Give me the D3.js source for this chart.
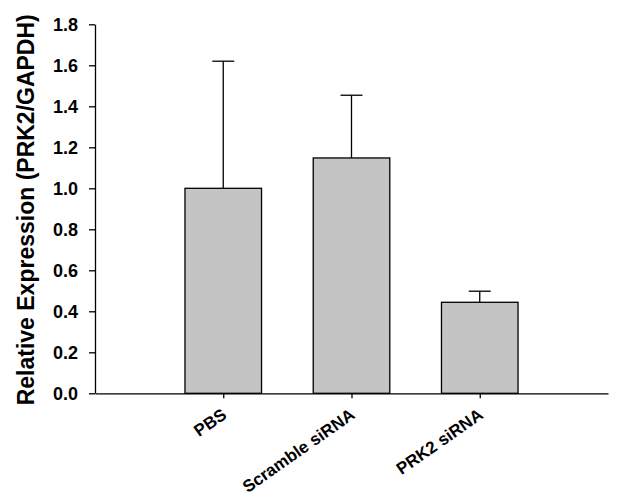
<!DOCTYPE html>
<html><head><meta charset="utf-8">
<script src="https://cdn.jsdelivr.net/npm/d3@7"></script>
<style>body{margin:0;background:#fff}svg{display:block}</style>
</head><body>
<script>
const categories = ["PBS", "Scramble siRNA", "PRK2 siRNA"];
const values = [1.0, 1.148, 0.444];
const errors = [0.62, 0.306, 0.054];
const yTicks = [0, 0.2, 0.4, 0.6, 0.8, 1.0, 1.2, 1.4, 1.6, 1.8];

const W = 626, H = 503;
const m = {left: 95, right: 18, top: 24.3, bottom: 109.7};
const svg = d3.select("body").append("svg").attr("width", W).attr("height", H);
const font = "'Liberation Sans', Arial, sans-serif";

const x = d3.scalePoint().domain(categories).range([m.left, W - m.right]).padding(1);
const y = d3.scaleLinear().domain([0, 1.8]).range([H - m.bottom, m.top]);
const bw = x.step() * 0.597;

const g = svg.append("g");
g.selectAll("rect.bar").data(categories).join("rect")
  .attr("x", d => x(d) - bw / 2)
  .attr("y", (d, i) => y(values[i]))
  .attr("width", bw)
  .attr("height", (d, i) => y(0) - y(values[i]))
  .attr("fill", "#c4c4c4").attr("stroke", "#000").attr("stroke-width", 1.3);
const capW = 11;
g.selectAll("line.err").data(categories).join("line")
  .attr("x1", d => x(d)).attr("x2", d => x(d))
  .attr("y1", (d, i) => y(values[i])).attr("y2", (d, i) => y(values[i] + errors[i]))
  .attr("stroke", "#000").attr("stroke-width", 1.3);
g.selectAll("line.cap").data(categories).join("line")
  .attr("x1", d => x(d) - capW).attr("x2", d => x(d) + capW)
  .attr("y1", (d, i) => y(values[i] + errors[i])).attr("y2", (d, i) => y(values[i] + errors[i]))
  .attr("stroke", "#000").attr("stroke-width", 1.3);

const ya = svg.append("g").attr("transform", `translate(${m.left},0)`)
  .call(d3.axisLeft(y).tickValues(yTicks).tickFormat(d3.format(".1f")).tickSize(6).tickPadding(11).tickSizeOuter(0));
ya.select(".domain").attr("stroke-width", 1.3);
ya.selectAll("line").attr("stroke-width", 1.3);
ya.selectAll("text").attr("font-family", font).attr("font-weight", "bold").attr("font-size", 18).attr("fill", "#000");

const xa = svg.append("g").attr("transform", `translate(0,${y(0)})`)
  .call(d3.axisBottom(x).tickSize(5).tickSizeOuter(0));
xa.select(".domain").attr("stroke-width", 1.3);
xa.selectAll("line").attr("stroke-width", 1.3);
xa.selectAll("text").attr("font-family", font).attr("font-weight", "bold").attr("font-size", 17).attr("fill", "#000")
  .attr("text-anchor", "end").attr("dy", null).attr("y", 0)
  .attr("transform", "translate(4,24) rotate(-35)");

svg.append("text")
  .attr("transform", `translate(34,${(y(0) + y(1.8)) / 2 + 1}) rotate(-90)`)
  .attr("text-anchor", "middle")
  .attr("font-family", font).attr("font-weight", "bold").attr("font-size", 23)
  .text("Relative Expression (PRK2/GAPDH)");
</script>
</body></html>
